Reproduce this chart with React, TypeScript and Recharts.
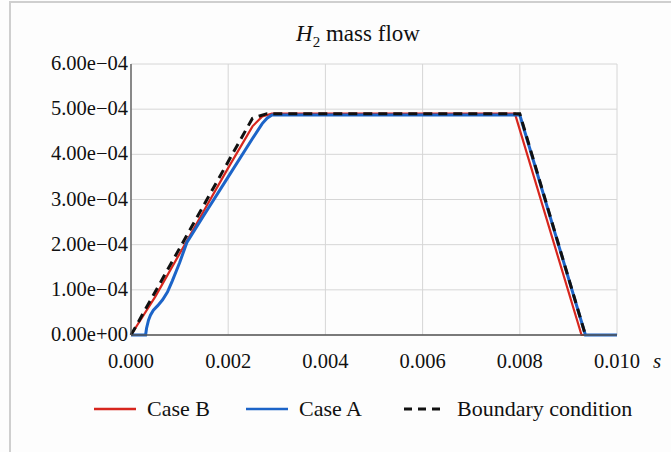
import React from 'react';
import { LineChart, Line, XAxis, YAxis, CartesianGrid, Label } from 'recharts';

// Case B (red)
const caseBTime = [0, 0.0005, 0.001, 0.0015, 0.002, 0.0025, 0.0027, 0.0029, 0.0079, 0.00927, 0.01];
const caseBFlow = [0, 0.85e-4, 1.8e-4, 2.75e-4, 3.7e-4, 4.62e-4, 4.84e-4, 4.9e-4, 4.9e-4, 0, 0];

// Case A (blue)
const caseATime = [0, 0.0003, 0.00032, 0.00036, 0.0004, 0.00046, 0.00055, 0.00065, 0.00075, 0.00085, 0.001, 0.00115, 0.0015, 0.002, 0.0025, 0.0027, 0.0028, 0.0029, 0.008, 0.00935, 0.01];
const caseAFlow = [0, 0, 0.15e-4, 0.33e-4, 0.44e-4, 0.55e-4, 0.65e-4, 0.78e-4, 0.95e-4, 1.2e-4, 1.6e-4, 2.05e-4, 2.65e-4, 3.5e-4, 4.35e-4, 4.68e-4, 4.8e-4, 4.87e-4, 4.87e-4, 0, 0];

// Boundary condition (black dashed)
const bcTime = [0, 0.0025, 0.0028, 0.008, 0.00935];
const bcFlow = [0, 4.8e-4, 4.9e-4, 4.9e-4, 0];

const xTicks = [0, 0.002, 0.004, 0.006, 0.008, 0.01];
const yTicks = [0, 1e-4, 2e-4, 3e-4, 4e-4, 5e-4, 6e-4];

const legendItems = [
  { name: 'Case B', color: '#d7261e', dash: false },
  { name: 'Case A', color: '#1c64c8', dash: false },
  { name: 'Boundary condition', color: '#111111', dash: true },
];

const toRows = (t: number[], v: number[]) => t.map((x, i) => ({ t: x, v: v[i] }));

const caseB = toRows(caseBTime, caseBFlow);
const caseA = toRows(caseATime, caseAFlow);
const bc = toRows(bcTime, bcFlow);

const FONT = '"Liberation Serif", "DejaVu Serif", serif';

const fmtY = (v: number) => {
  const [m, e] = v.toExponential(2).split('e');
  const n = parseInt(e, 10);
  const sign = n < 0 ? '\u2212' : '+';
  return `${m}e${sign}${String(Math.abs(n)).padStart(2, '0')}`;
};

const txt = { fontFamily: FONT, fontSize: 20.5, fill: '#111' };

const XTick = (props: any) => {
  const { x, payload } = props;
  return (
    <text x={x} y={368} textAnchor="middle" fontFamily="Liberation Serif" fontSize={20.5} style={txt}>
      {Number(payload.value).toFixed(3)}
    </text>
  );
};

const YTick = (props: any) => {
  const { x, y, payload } = props;
  return (
    <text x={x} y={y + 6} textAnchor="end" fontFamily="Liberation Serif" fontSize={20.5} style={txt}>
      {fmtY(Number(payload.value))}
    </text>
  );
};

const LegendBox = () => (
  <div style={{ position: 'absolute', left: 0, top: 389, width: 671, height: 40, fontFamily: FONT, fontSize: 22, color: '#111' }}>
    {legendItems.map((it, i) => {
      const left = [94, 246, 404][i];
      return (
        <div key={it.name} style={{ position: 'absolute', left, top: 0, display: 'flex', alignItems: 'center', height: 40 }}>
          <svg width={44} height={6} style={{ marginRight: 9 }}>
            <line x1={0} y1={3} x2={it.dash ? 37 : 42} y2={3} stroke={it.color} strokeWidth={it.dash ? 3 : 2.5}
              strokeDasharray={it.dash ? '8 6' : undefined} />
          </svg>
          <span>{it.name}</span>
        </div>
      );
    })}
  </div>
);

export default function App() {
  return (
    <div style={{ position: 'absolute', left: 0, top: 0, width: 671, height: 452, background: '#fdfdfd', overflow: 'hidden' }}>
      <div style={{ position: 'absolute', left: 9, top: 1, right: -2, bottom: -2, borderLeft: '2px solid #cfcfcf', borderTop: '2px solid #cfcfcf' }} />
      <div style={{ position: 'absolute', left: 0, width: 716, top: 20, textAlign: 'center', fontFamily: FONT, fontSize: 23, color: '#111', lineHeight: '28px' }}>
        <i>H</i><sub style={{ fontSize: 15 }}>2</sub> mass flow
      </div>
      <div style={{ position: 'absolute', left: 0, top: 0, fontFamily: FONT }}>
        <LineChart width={671} height={452} data={bc} margin={{ top: 64, right: 54, bottom: 0, left: 0 }}>
          <CartesianGrid stroke="#d6d6d6" strokeWidth={1} />
          <XAxis
            dataKey="t"
            type="number"
            domain={[0, 0.01]}
            ticks={xTicks}
            tickLine={false}
            tickSize={0}
            tickMargin={0}
            height={117}
            axisLine={{ stroke: '#555', strokeWidth: 1.3 }}
            tick={(p: any) => <XTick {...p} />}
            interval={0}
          >
            <Label
              content={(props: any) => {
                const vb = props.viewBox || {};
                return (
                  <text x={vb.x + vb.width + 36} y={368} style={{ fontFamily: FONT, fontSize: 21, fontStyle: 'italic', fill: '#111' }}>s</text>
                );
              }}
            />
          </XAxis>
          <XAxis xAxisId="top" orientation="top" type="number" domain={[0, 0.01]} tick={false} tickLine={false} height={0}
            axisLine={{ stroke: '#555', strokeWidth: 1.3 }} />
          <YAxis
            type="number"
            domain={[0, 6e-4]}
            ticks={yTicks}
            tickLine={false}
            tickSize={0}
            tickMargin={3}
            width={131}
            axisLine={{ stroke: '#555', strokeWidth: 1.3 }}
            tick={(p: any) => <YTick {...p} />}
            interval={0}
          />
          <YAxis yAxisId="right" orientation="right" domain={[0, 6e-4]} tick={false} tickLine={false} width={0}
            axisLine={{ stroke: '#555', strokeWidth: 1.3 }} />
          <Line data={caseB} dataKey="v" name="Case B" type="linear" stroke="#d7261e" strokeWidth={2.2} dot={false} isAnimationActive={false} />
          <Line data={caseA} dataKey="v" name="Case A" type="linear" stroke="#1c64c8" strokeWidth={3} dot={false} isAnimationActive={false} />
          <Line data={bc} dataKey="v" name="Boundary condition" type="linear" stroke="#111" strokeWidth={3} strokeDasharray="9 6" dot={false} isAnimationActive={false} />
        </LineChart>
      </div>
      <LegendBox />
    </div>
  );
}
